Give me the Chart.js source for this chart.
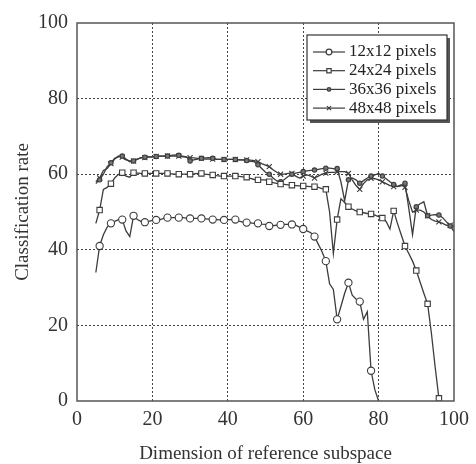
<!DOCTYPE html>
<html>
<head>
<meta charset="utf-8">
<script src="https://cdn.jsdelivr.net/npm/chart.js@4/dist/chart.umd.min.js"></script>
<style>
  html, body { margin: 0; padding: 0; background: #fff; }
  #wrap { width: 476px; height: 464px; }
</style>
</head>
<body>
<div id="wrap"><canvas id="c" width="476" height="464"></canvas></div>
<script>
// subspace dimension, starting at 5
const dims = Array.from({ length: 96 }, (_, i) => i + 5);

const rate12 = [34, 41, 44, 46, 47, 47.5, 48, 48, 45, 43.5, 49, 48, 47.5, 47.3, 47.5, 47.8,
  47.9, 48, 48.3, 48.5, 48.5, 48.5, 48.5, 48.5, 48.4, 48.3, 48.3, 48.3, 48.3, 48.2, 48.1, 48,
  48, 47.9, 47.9, 48, 48, 48, 47.6, 47.3, 47.2, 47.1, 47, 47, 46.8, 46.7, 46.3, 46.4, 46.5, 46.6,
  46.7, 46.7, 46.7, 46.5, 46, 45.5, 45, 44.5, 43.5, 41.5, 39.5, 37, 31, 29.5, 21.6, 25, 28.5,
  31.3, 28, 27, 26.3, 21.6, 23.6, 8, 3, 0];

const rate24 = [47, 50.5, 56, 56.5, 57.5, 59, 60, 60.4, 59.5, 59.2, 60.4, 60.3, 60.2, 60.2, 60.2,
  60.2, 60.2, 60.2, 60.2, 60.2, 60.1, 60, 60, 60, 60, 60, 60.1, 60.2, 60.2, 60, 59.9, 59.8, 59.6,
  59.5, 59.5, 59.5, 59.5, 59.5, 59.4, 59.3, 59.2, 58.9, 58.6, 58.5, 58.5, 58.5, 58, 57.8, 57.6,
  57.4, 57.3, 57.2, 57.1, 57, 56.9, 56.9, 56.8, 56.7, 56.7, 56.5, 56.2, 56, 50, 39, 48, 53.5, 52.5,
  51.4, 50.8, 50.3, 50, 49.8, 49.6, 49.5, 49.2, 48.8, 48.4, 47.5, 45.5, 50.3, 47, 44, 41, 39, 37,
  34.5, 31.5, 28.5, 25.7, 18, 9, 0.7];

const rate36 = [57.5, 58.5, 60, 62, 63, 64.2, 64.6, 64.8, 64, 63.3, 63.5, 64, 64.4, 64.5, 64.6,
  64.6, 64.7, 64.8, 64.8, 64.8, 65, 65.1, 65, 64.8, 64.6, 63.5, 63.8, 64, 64.2, 64.3, 64.4, 64.2,
  64, 63.9, 63.9, 63.9, 63.9, 63.9, 63.8, 63.8, 63.6, 63.4, 63.3, 62.5, 61.5, 60.5, 60, 59, 58.2,
  58, 58.6, 59.4, 60, 60.3, 60.5, 60.7, 60.9, 61, 61.1, 61.3, 61.5, 61.6, 61.6, 61.5, 61.5, 58,
  53, 58.5, 59, 58.5, 57.6, 58.3, 59, 59.5, 59.8, 60.2, 59.5, 58.8, 58, 57.3, 56.7, 56.9, 57.6,
  51, 44, 51.4, 52.2, 52.7, 49, 49.2, 49.3, 49.2, 48.5, 47.4, 46.3, 44.8];

const rate48 = [58, 59, 61, 61.5, 62.8, 64, 64.8, 64.5, 63.8, 63.5, 63.5, 64, 64.3, 64.4, 64.5,
  64.6, 64.7, 64.8, 64.8, 64.8, 64.8, 64.8, 64.8, 64.6, 64.5, 64.4, 64.3, 64.2, 64.2, 64, 64, 64,
  63.9, 63.9, 63.9, 63.9, 63.9, 63.9, 63.8, 63.8, 63.8, 63.7, 63.6, 63.3, 62.8, 62.4, 62, 61.2,
  60.5, 60, 60, 60.2, 60.2, 59.5, 59, 59.5, 59.8, 59.5, 59, 59.5, 60, 60.3, 60.5, 60.5, 60.6, 60.7,
  60.7, 60.2, 58.5, 57, 56, 57.5, 58.5, 58.9, 58.8, 58.5, 58, 57.5, 57, 56.7, 56.8, 57.2, 56.5, 53,
  50, 50.5, 50.5, 50, 49, 48, 47.6, 47.4, 47, 46.5, 46.5, 46.3];

const seriesNames = ['12x12 pixels', '24x24 pixels', '36x36 pixels', '48x48 pixels'];
const yTicks = [0, 20, 40, 60, 80, 100];
const xTicks = [0, 20, 40, 60, 80, 100];

const ink = '#3c3c3c';
const serif = "'Liberation Serif', 'DejaVu Serif', serif";

function toPoints(vals) {
  return vals.map((v, i) => ({ x: dims[i], y: v }));
}

// a marker every third dimension
function markEvery3(r) {
  return ctx => (ctx.raw && ctx.raw.x % 3 === 0 ? r : 0);
}

const styles = [
  { pointStyle: 'circle', radius: 3.6, fill: '#fff' },
  { pointStyle: 'rect', radius: 3.8, fill: '#fff' },
  { pointStyle: 'circle', radius: 2.2, fill: '#777' },
  { pointStyle: 'crossRot', radius: 3.6, fill: '#fff' }
];

const datasets = [rate12, rate24, rate36, rate48].map((vals, k) => ({
  label: seriesNames[k],
  data: toPoints(vals),
  borderColor: ink,
  borderWidth: 1.3,
  backgroundColor: styles[k].fill,
  pointStyle: styles[k].pointStyle,
  pointRadius: markEvery3(styles[k].radius),
  pointBorderColor: ink,
  pointBorderWidth: 1.1,
  pointBackgroundColor: styles[k].fill,
  tension: 0
}));

// box around the plot plus the boxed legend with a drop shadow
const framePlugin = {
  id: 'frame',
  afterDraw(chart) {
    const { ctx, chartArea: a } = chart;
    ctx.save();
    ctx.strokeStyle = '#555';
    ctx.lineWidth = 1.5;
    ctx.strokeRect(a.left, a.top, a.right - a.left, a.bottom - a.top);

    const bx = 307, by = 35, bw = 140, bh = 85;
    ctx.fillStyle = '#555';
    ctx.fillRect(bx + 3, by + 3, bw, bh);
    ctx.fillStyle = '#fff';
    ctx.fillRect(bx, by, bw, bh);
    ctx.strokeStyle = '#333';
    ctx.lineWidth = 1.2;
    ctx.strokeRect(bx, by, bw, bh);

    ctx.font = '17px ' + serif;
    ctx.textBaseline = 'middle';
    chart.data.datasets.forEach((ds, k) => {
      const y = 52 + k * 18.7;
      ctx.strokeStyle = ink;
      ctx.lineWidth = 1.2;
      ctx.beginPath();
      ctx.moveTo(313, y);
      ctx.lineTo(345, y);
      ctx.stroke();
      ctx.fillStyle = styles[k].fill;
      Chart.helpers.drawPoint(ctx, {
        pointStyle: styles[k].pointStyle,
        radius: styles[k].radius * 0.8,
        borderWidth: 1
      }, 329, y);
      ctx.fillStyle = '#222';
      ctx.fillText(ds.label, 349, y);
    });
    ctx.restore();
  }
};

const gridStyle = {
  color: ctx => (ctx.tick && (ctx.tick.value === 0 || ctx.tick.value === 100) ? 'rgba(0,0,0,0)' : '#444'),
  lineWidth: 1,
  drawTicks: false
};

new Chart(document.getElementById('c'), {
  type: 'line',
  data: { datasets },
  plugins: [framePlugin],
  options: {
    responsive: false,
    animation: false,
    layout: { padding: { top: 23, right: 19, left: 0, bottom: 0 } },
    plugins: { legend: { display: false }, tooltip: { enabled: false } },
    scales: {
      x: {
        type: 'linear',
        min: 0,
        max: 100,
        afterBuildTicks: s => { s.ticks = xTicks.map(v => ({ value: v })); },
        afterFit: s => { s.height = 63; },
        grid: gridStyle,
        border: { display: false, dash: [2, 2] },
        ticks: { color: '#333', padding: 7, font: { family: serif, size: 20 }, maxRotation: 0 },
        title: {
          display: true,
          text: 'Dimension of reference subspace',
          color: '#333',
          font: { family: serif, size: 19, lineHeight: 1 },
          padding: { top: 0, bottom: 0 }
        }
      },
      y: {
        min: 0,
        max: 100,
        afterBuildTicks: s => { s.ticks = yTicks.map(v => ({ value: v })); },
        afterFit: s => { s.width = 77; },
        grid: gridStyle,
        border: { display: false, dash: [2, 2] },
        ticks: { color: '#333', padding: 9, font: { family: serif, size: 20 } },
        title: {
          display: true,
          text: 'Classification rate',
          color: '#333',
          font: { family: serif, size: 19, lineHeight: 1 },
          padding: { top: 13.5, bottom: 0 }
        }
      }
    }
  }
});
</script>
</body>
</html>
